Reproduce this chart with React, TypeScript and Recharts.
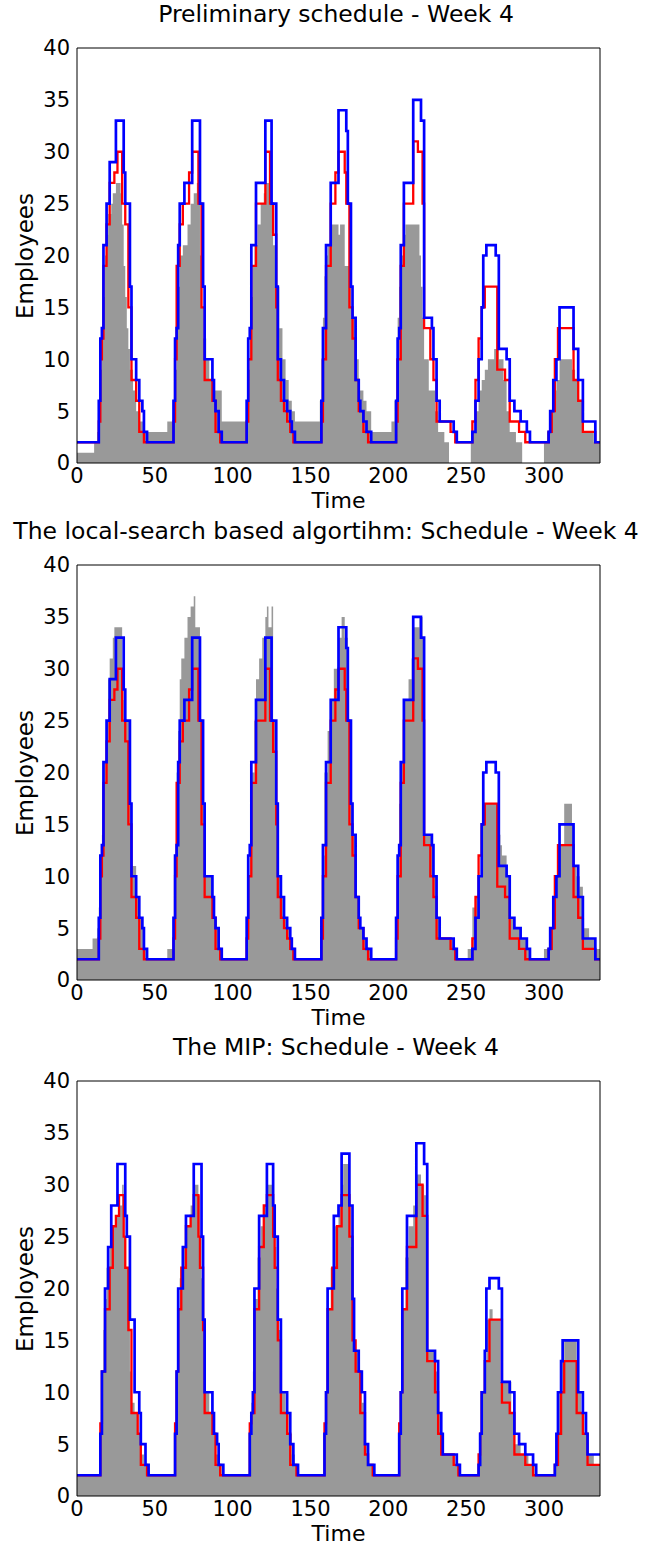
import React from 'react';
import { ComposedChart, Line, Area, XAxis, YAxis } from 'recharts';

type Pt = [number, number];

const timeTicks = [0, 50, 100, 150, 200, 250, 300];
const employeeTicks = [0, 5, 10, 15, 20, 25, 30, 35, 40];
const panelTitles = [
  'Preliminary schedule - Week 4',
  'The local-search based algortihm: Schedule - Week 4',
  'The MIP: Schedule - Week 4',
];

// Upper staffing limit (blue), panels 1 & 2 — [time, employees] breakpoints of a step function
const upperLimit: Pt[] = [
  [0, 2], [14, 6], [15, 12], [16, 13], [17, 21], [19, 25], [21, 29], [25, 33], [30, 28], [31, 25], [34, 17], [35, 10], [38, 8], [40, 6], [42, 5], [43, 3], [45, 2],
  [62, 6], [63, 12], [64, 13], [65, 21], [66, 25], [69, 27], [74, 33], [79, 25], [81, 17], [82, 10], [87, 8], [88, 6], [89, 5], [91, 3], [93, 2],
  [109, 6], [110, 12], [111, 13], [112, 21], [115, 27], [121, 33], [125, 25], [128, 17], [129, 10], [131, 8], [133, 6], [135, 5], [137, 4], [138, 3], [140, 2],
  [157, 6], [158, 13], [160, 21], [163, 27], [168, 34], [173, 32], [174, 25], [176, 17], [177, 14], [179, 8], [181, 6], [182, 5], [184, 4], [186, 3], [189, 2],
  [205, 6], [206, 12], [207, 13], [208, 21], [210, 27], [216, 35], [221, 33], [223, 14], [228, 13], [229, 10], [231, 6], [233, 4], [242, 3], [244, 2],
  [254, 3], [256, 6], [258, 10], [260, 15], [261, 20], [263, 21], [269, 20], [271, 11], [276, 10], [278, 6], [281, 5], [285, 4], [289, 3], [291, 2],
  [303, 3], [304, 5], [306, 8], [308, 10], [310, 15], [319, 11], [322, 8], [325, 4], [333, 2], [336, 2],
];

// Demand (red), panels 1 & 2
const demand: Pt[] = [
  [0, 2], [14, 4], [15, 10], [16, 12], [17, 19], [19, 23], [21, 27], [24, 28], [26, 30], [29, 25], [31, 23], [33, 15], [35, 8], [38, 6], [40, 3], [43, 2],
  [62, 4], [63, 10], [64, 19], [66, 23], [68, 25], [72, 28], [74, 30], [78, 25], [80, 15], [82, 8], [87, 6], [89, 3], [92, 2],
  [109, 4], [110, 10], [112, 19], [115, 25], [121, 30], [124, 25], [126, 22], [128, 15], [129, 8], [131, 6], [133, 5], [135, 4], [137, 3], [139, 2],
  [157, 4], [158, 10], [160, 19], [163, 25], [166, 28], [168, 30], [172, 28], [173, 25], [175, 15], [177, 12], [179, 8], [181, 5], [184, 3], [187, 2],
  [205, 4], [206, 10], [208, 19], [210, 25], [216, 31], [219, 30], [222, 25], [223, 13], [227, 10], [229, 8], [231, 4], [240, 3], [243, 2],
  [254, 4], [256, 8], [258, 12], [260, 15], [262, 17], [270, 9], [275, 8], [278, 4], [284, 3], [288, 2],
  [303, 3], [305, 5], [307, 10], [309, 13], [319, 8], [322, 6], [325, 3], [333, 2], [336, 2],
];

// Scheduled employees (gray), preliminary schedule
const staffPrelim: Pt[] = [
  [0, 1], [11, 2], [13, 3], [14, 5], [15, 9], [16, 13], [17, 16], [18, 20], [19, 22], [20, 24], [22, 25], [23, 26], [25, 27], [28, 26], [29, 23], [30, 19], [31, 16], [32, 13], [33, 11], [34, 9], [36, 7], [38, 5], [40, 4], [43, 3], [58, 4],
  [62, 6], [63, 9], [64, 13], [65, 17], [66, 20], [68, 21], [71, 23], [73, 25], [75, 26], [77, 27], [79, 20], [80, 15], [81, 12], [83, 10], [85, 8], [87, 7], [93, 4],
  [109, 6], [110, 9], [111, 13], [112, 16], [113, 19], [114, 21], [116, 23], [118, 25], [120, 26], [121, 27], [124, 25], [126, 21], [128, 17], [130, 13], [132, 10], [134, 8], [136, 6], [138, 5], [140, 4],
  [156, 6], [157, 10], [158, 14], [159, 18], [160, 20], [161, 21], [163, 23], [168, 22], [169, 23], [172, 19], [176, 14], [179, 10], [181, 7], [184, 6], [186, 5], [189, 3], [202, 4],
  [204, 6], [205, 10], [206, 14], [207, 17], [208, 20], [210, 22], [211, 23], [220, 20], [221, 17], [222, 14], [223, 10], [226, 7], [230, 5], [232, 3], [236, 2], [239, 0],
  [253, 2], [254, 3], [256, 5], [258, 7], [260, 8], [262, 9], [264, 10], [268, 11], [271, 10], [274, 8], [276, 5], [278, 3], [282, 2], [286, 0],
  [300, 2], [302, 3], [304, 5], [306, 7], [308, 8], [310, 10], [318, 9], [320, 8], [322, 6], [325, 3], [332, 2], [336, 2],
];

// Scheduled employees (gray), local-search algorithm
const staffLocal: Pt[] = [
  [0, 3], [10, 4], [13, 5], [14, 7], [15, 12], [16, 14], [17, 21], [19, 25], [20, 29], [21, 31], [23, 33], [24, 34], [29, 30], [30, 27], [31, 25], [34, 17], [35, 11], [38, 8], [40, 6], [42, 5], [43, 3], [45, 2], [58, 3],
  [62, 6], [63, 12], [64, 20], [65, 24], [66, 29], [67, 31], [69, 33], [71, 35], [73, 36], [75, 37], [76, 34], [79, 25], [81, 17], [82, 10], [87, 8], [88, 6], [89, 5], [91, 3], [93, 2],
  [109, 5], [110, 10], [111, 13], [112, 20], [114, 25], [115, 29], [117, 31], [119, 33], [121, 35], [122, 36], [123, 34], [125, 36], [126, 25], [128, 17], [129, 10], [131, 8], [133, 6], [135, 5], [137, 4], [138, 3], [140, 2],
  [157, 5], [158, 12], [159, 20], [161, 24], [163, 27], [165, 30], [168, 33], [170, 35], [172, 33], [174, 25], [176, 17], [177, 14], [179, 8], [181, 6], [182, 5], [184, 4], [186, 3], [189, 2],
  [205, 5], [206, 12], [207, 17], [208, 21], [210, 27], [213, 29], [215, 31], [216, 34], [220, 35], [222, 33], [223, 14], [228, 13], [229, 10], [231, 6], [233, 4], [242, 3], [244, 2], [251, 3],
  [254, 7], [256, 8], [258, 10], [260, 15], [261, 17], [270, 14], [272, 13], [273, 12], [276, 10], [278, 6], [281, 5], [285, 4], [289, 3], [291, 2], [300, 3],
  [304, 5], [306, 8], [308, 10], [310, 13], [313, 17], [318, 15], [319, 11], [321, 10], [323, 9], [325, 5], [329, 4], [333, 3], [336, 3],
];

// Upper limit (blue), MIP
const upperMip: Pt[] = [
  [0, 2], [15, 6], [16, 12], [18, 20], [20, 24], [22, 28], [26, 32], [31, 27], [32, 25], [34, 17], [37, 10], [40, 8], [41, 5], [44, 3], [46, 2],
  [63, 6], [64, 12], [65, 20], [68, 24], [70, 27], [75, 32], [80, 25], [81, 17], [82, 10], [87, 8], [88, 6], [90, 5], [91, 3], [94, 2],
  [111, 6], [112, 8], [113, 10], [114, 20], [117, 27], [122, 32], [126, 28], [127, 25], [129, 17], [131, 10], [135, 8], [137, 5], [139, 3], [142, 2],
  [159, 6], [160, 10], [161, 20], [165, 27], [168, 28], [170, 33], [175, 28], [177, 19], [178, 14], [181, 12], [183, 10], [185, 5], [187, 3], [191, 2],
  [207, 6], [208, 10], [209, 20], [212, 27], [218, 34], [223, 32], [225, 14], [230, 13], [232, 8], [234, 6], [235, 4], [244, 3], [246, 2],
  [258, 3], [259, 6], [260, 10], [262, 14], [263, 20], [265, 21], [271, 20], [273, 11], [278, 10], [281, 6], [284, 5], [288, 4], [293, 3], [295, 2],
  [307, 3], [308, 6], [309, 10], [311, 13], [312, 15], [322, 10], [325, 8], [327, 6], [328, 4], [336, 4],
];

// Demand (red), MIP
const demandMip: Pt[] = [
  [0, 2], [15, 7], [16, 12], [18, 18], [21, 22], [23, 26], [25, 27], [27, 29], [30, 25], [31, 22], [33, 16], [35, 8], [39, 6], [41, 3], [45, 2],
  [63, 7], [64, 12], [65, 18], [67, 22], [70, 26], [73, 27], [75, 29], [78, 25], [79, 22], [81, 16], [82, 8], [87, 6], [89, 3], [92, 2],
  [111, 7], [112, 8], [114, 18], [117, 24], [120, 28], [122, 29], [126, 25], [127, 22], [129, 15], [131, 8], [135, 6], [137, 3], [141, 2],
  [159, 7], [160, 10], [161, 18], [164, 22], [167, 26], [170, 29], [175, 25], [177, 15], [179, 12], [182, 8], [185, 4], [187, 3], [190, 2],
  [207, 7], [208, 10], [209, 18], [212, 24], [218, 30], [222, 27], [225, 13], [230, 10], [232, 6], [234, 4], [242, 3], [245, 2],
  [258, 4], [259, 6], [260, 10], [262, 13], [265, 17], [273, 9], [278, 8], [281, 4], [288, 3], [293, 2],
  [307, 3], [309, 6], [311, 10], [313, 13], [321, 8], [325, 6], [328, 3], [336, 3],
];

// Scheduled employees (gray), MIP
const staffMip: Pt[] = [
  [0, 2], [15, 6], [16, 12], [17, 16], [18, 19], [19, 22], [21, 24], [23, 26], [25, 27], [27, 28], [29, 30], [30, 25], [31, 22], [33, 17], [34, 12], [35, 9], [37, 8], [39, 6], [41, 4], [43, 3], [45, 2],
  [63, 6], [64, 12], [65, 18], [66, 21], [68, 24], [70, 26], [73, 28], [75, 30], [78, 29], [79, 25], [80, 21], [81, 16], [82, 10], [85, 8], [87, 6], [89, 4], [91, 3], [93, 2],
  [111, 6], [112, 9], [113, 12], [114, 19], [116, 23], [118, 26], [120, 28], [122, 30], [126, 28], [127, 24], [128, 20], [129, 16], [131, 10], [134, 8], [136, 6], [138, 4], [140, 3], [142, 2],
  [159, 6], [160, 10], [161, 18], [163, 22], [165, 26], [168, 28], [170, 30], [171, 32], [175, 28], [176, 24], [177, 18], [178, 14], [181, 12], [183, 9], [185, 5], [187, 3], [191, 2],
  [207, 6], [208, 10], [209, 18], [211, 23], [213, 26], [216, 28], [218, 31], [221, 30], [223, 29], [225, 14], [230, 12], [232, 8], [234, 6], [235, 4], [243, 3], [246, 2],
  [258, 3], [259, 6], [260, 10], [262, 13], [263, 17], [265, 18], [267, 17], [272, 11], [276, 11], [279, 8], [281, 5], [285, 4], [290, 3], [294, 2],
  [307, 3], [308, 6], [309, 10], [311, 13], [313, 15], [321, 12], [322, 10], [324, 8], [326, 6], [328, 4], [332, 3], [336, 3],
];

const rows = (pts: Pt[]) => pts.map(([t, v]) => ({ t, v }));

const FONT = '"DejaVu Sans", Verdana, sans-serif';
const W = 651;
const H = 517;
const axisStroke = { stroke: '#000', strokeWidth: 1 };

type PanelProps = {
  top: number;
  title: string;
  titleCenter: number;
  staffed: Pt[];
  upper: Pt[];
  lower: Pt[];
};

function Panel({ top, title, titleCenter, staffed, upper, lower }: PanelProps) {
  return (
    <div style={{ position: 'absolute', left: 0, top, width: W, height: H }}>
      <ComposedChart width={W} height={H} margin={{ top: 48, right: 51, bottom: 0, left: 0 }}>
        <XAxis
          xAxisId="x"
          dataKey="t"
          type="number"
          domain={[0, 336]}
          ticks={timeTicks}
          interval={0}
          allowDataOverflow
          height={54}
          tickLine={false}
          tickSize={3}
          tickMargin={2}
          axisLine={axisStroke}
          tick={{ fontSize: 21, fill: '#000', fontFamily: FONT }}
        />
        <XAxis
          xAxisId="xt"
          type="number"
          domain={[0, 336]}
          ticks={timeTicks}
          interval={0}
          orientation="top"
          mirror
          tick={false}
          tickSize={5}
          tickLine={axisStroke}
          axisLine={axisStroke}
        />
        <XAxis
          xAxisId="xb"
          type="number"
          domain={[0, 336]}
          ticks={timeTicks}
          interval={0}
          orientation="bottom"
          mirror
          tick={false}
          tickSize={5}
          tickLine={axisStroke}
          axisLine={false}
        />
        <YAxis
          yAxisId="y"
          type="number"
          domain={[0, 40]}
          ticks={employeeTicks}
          interval={0}
          allowDataOverflow
          width={77}
          tickLine={false}
          tickSize={3}
          tickMargin={4}
          axisLine={axisStroke}
          tick={{ fontSize: 21, fill: '#000', fontFamily: FONT }}
        />
        <YAxis
          yAxisId="yl"
          type="number"
          domain={[0, 40]}
          ticks={employeeTicks}
          interval={0}
          orientation="left"
          mirror
          tick={false}
          tickSize={5}
          tickLine={axisStroke}
          axisLine={false}
        />
        <YAxis
          yAxisId="yr"
          type="number"
          domain={[0, 40]}
          ticks={employeeTicks}
          interval={0}
          orientation="right"
          mirror
          tick={false}
          tickSize={5}
          tickLine={axisStroke}
          axisLine={axisStroke}
        />
        <Area
          xAxisId="x"
          yAxisId="y"
          data={rows(staffed)}
          dataKey="v"
          type="stepAfter"
          fill="#999999"
          fillOpacity={1}
          stroke="none"
          activeDot={false}
          isAnimationActive={false}
        />
        <Line
          xAxisId="x"
          yAxisId="y"
          data={rows(lower)}
          dataKey="v"
          type="stepAfter"
          stroke="#ff0000"
          strokeWidth={2.3}
          dot={false}
          activeDot={false}
          isAnimationActive={false}
        />
        <Line
          xAxisId="x"
          yAxisId="y"
          data={rows(upper)}
          dataKey="v"
          type="stepAfter"
          stroke="#0000ff"
          strokeWidth={2.7}
          dot={false}
          activeDot={false}
          isAnimationActive={false}
        />
      </ComposedChart>
      <div
        style={{
          position: 'absolute',
          left: titleCenter - 400,
          width: 800,
          top: 0,
          lineHeight: '28px',
          textAlign: 'center',
          fontFamily: FONT,
          fontSize: 23.5,
          whiteSpace: 'nowrap',
          color: '#000',
        }}
      >
        {title}
      </div>
      <div
        style={{
          position: 'absolute',
          left: 338.5 - 100,
          width: 200,
          top: 490,
          lineHeight: '22px',
          textAlign: 'center',
          fontFamily: FONT,
          fontSize: 22,
          color: '#000',
        }}
      >
        Time
      </div>
      <div
        style={{
          position: 'absolute',
          left: 25,
          top: 255.5,
          transform: 'translate(-50%, -50%) rotate(-90deg)',
          lineHeight: '28px',
          fontFamily: FONT,
          fontSize: 23,
          whiteSpace: 'nowrap',
          color: '#000',
        }}
      >
        Employees
      </div>
    </div>
  );
}

export default function App() {
  return (
    <div style={{ position: 'absolute', left: 0, top: 0, width: 651, height: 1553, background: '#fff' }}>
      <Panel top={0} title={panelTitles[0]} titleCenter={336} staffed={staffPrelim} upper={upperLimit} lower={demand} />
      <Panel top={517} title={panelTitles[1]} titleCenter={326} staffed={staffLocal} upper={upperLimit} lower={demand} />
      <Panel top={1033} title={panelTitles[2]} titleCenter={336} staffed={staffMip} upper={upperMip} lower={demandMip} />
    </div>
  );
}
